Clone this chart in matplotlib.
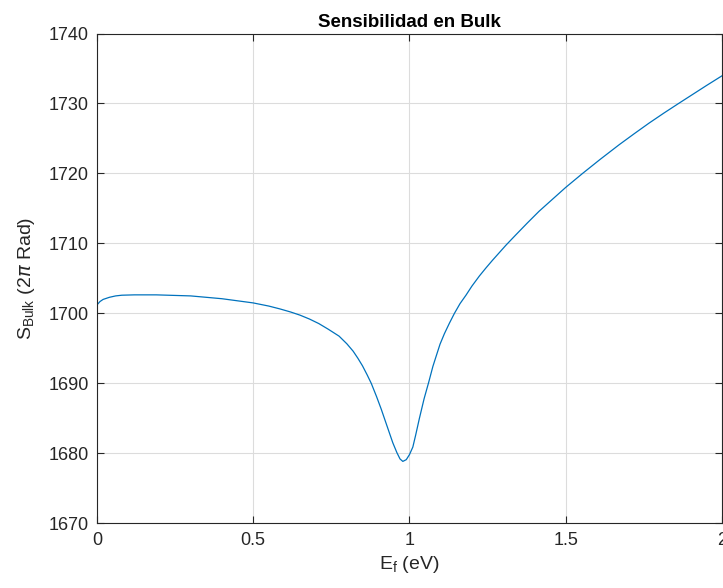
import matplotlib.pyplot as plt

# Sensibilidad en bulk vs energia de Fermi
ef = [0, 0.01, 0.02, 0.03, 0.04, 0.06, 0.08, 0.12, 0.19, 0.3, 0.4, 0.5, 0.55,
      0.585, 0.62, 0.65, 0.68, 0.71, 0.74, 0.775, 0.80, 0.82, 0.835, 0.85,
      0.865, 0.878, 0.895, 0.91, 0.92, 0.93, 0.94, 0.947, 0.96, 0.97, 0.979,
      0.99, 1.0, 1.011, 1.02, 1.032, 1.047, 1.062, 1.075, 1.085, 1.098,
      1.112, 1.128, 1.144, 1.162, 1.181, 1.2, 1.224, 1.245, 1.266, 1.288,
      1.309, 1.34, 1.378, 1.415, 1.46, 1.5, 1.554, 1.61, 1.671, 1.72, 1.767,
      1.815, 1.863, 1.91, 1.95, 2.0]
s_bulk = [1701.2, 1701.7, 1702.0, 1702.15, 1702.3, 1702.5, 1702.6, 1702.65,
          1702.65, 1702.5, 1702.1, 1701.5, 1701.05, 1700.65, 1700.2, 1699.75,
          1699.2, 1698.55, 1697.75, 1696.75, 1695.65, 1694.6, 1693.6, 1692.5,
          1691.2, 1690.0, 1688.1, 1686.3, 1685.0, 1683.7, 1682.4, 1681.5,
          1680.1, 1679.2, 1678.85, 1679.1, 1679.8, 1680.9, 1682.6, 1685.0,
          1687.8, 1690.2, 1692.4, 1693.8, 1695.6, 1697.1, 1698.6, 1700.0,
          1701.4, 1702.6, 1703.9, 1705.35, 1706.5, 1707.6, 1708.7, 1709.75,
          1711.2, 1712.95, 1714.6, 1716.4, 1718.0, 1720.0, 1722.0, 1724.1,
          1725.7, 1727.2, 1728.65, 1730.05, 1731.4, 1732.55, 1733.95]

xticks = [0, 0.5, 1, 1.5, 2]
xtick_labels = ['0', '0.5', '1', '1.5', '2']
yticks = [1670, 1680, 1690, 1700, 1710, 1720, 1730, 1740]

plt.rcParams['font.family'] = ['Liberation Sans', 'DejaVu Sans']
dark = '#262626'

fig = plt.figure(figsize=(7.23, 5.88), dpi=100)
ax = fig.add_axes([0.134, 0.110, 0.8645, 0.833])

ax.plot(ef, s_bulk, color='#0072BD', linewidth=0.9)

ax.set_xlim(0, 2)
ax.set_ylim(1670, 1740)
ax.set_xticks(xticks)
ax.set_xticklabels(xtick_labels)
ax.set_yticks(yticks)
ax.grid(True, color='#dcdcdc', linewidth=0.8)
ax.set_axisbelow(True)

ax.tick_params(direction='in', length=5, width=0.8, colors=dark,
               labelsize=13, top=True, right=True, pad=6)
for sp in ax.spines.values():
    sp.set_color(dark)
    sp.set_linewidth(0.8)

ax.set_title('Sensibilidad en Bulk', fontsize=13.5, fontweight='bold',
             color='black', pad=5)
ax.set_xlabel(r'E$_{\mathregular{f}}$ (eV)', fontsize=14, color=dark, labelpad=4)
ax.set_ylabel(r'S$_{\mathregular{Bulk}}$ (2$\pi$ Rad)', fontsize=14,
              color=dark, labelpad=8)

fig.savefig('out.png', dpi=100)
